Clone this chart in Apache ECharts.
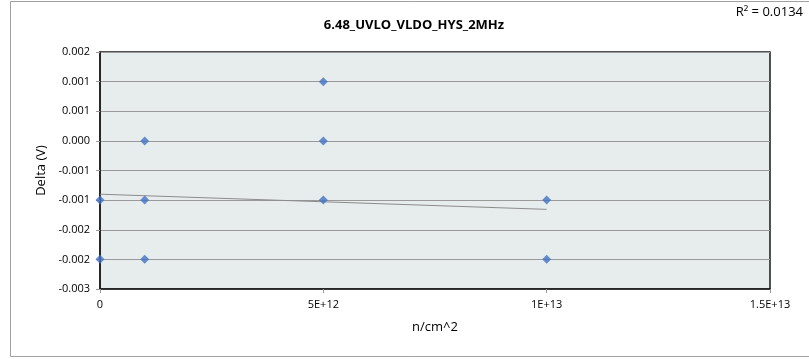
<!DOCTYPE html>
<html><head><meta charset="utf-8">
<script src="https://cdn.jsdelivr.net/npm/echarts@6/dist/echarts.min.js"></script>
<style>html,body{margin:0;padding:0;background:#fff}#c{width:809px;height:359px}</style>
</head><body><div id="c"></div>
<script>
const titleText = '6.48_UVLO_VLDO_HYS_2MHz';
const r2Text = 'R\u00B2 = 0.0134';
const xValues = [0, 0, 1e12, 1e12, 1e12, 5e12, 5e12, 5e12, 1e13, 1e13];
const yValues = [-0.00112, -0.00237, 0.00012, -0.00112, -0.00237, 0.00137, 0.00012, -0.00112, -0.00112, -0.00237];
const trendX = [0, 1e13];
const trendY = [-0.00100, -0.00132];
const yTickLabels = ['-0.003','-0.002','-0.002','-0.001','-0.001','0.000','0.001','0.001','0.002'];
const xTickLabels = ['0','5E+12','1E+13','1.5E+13'];
const yMin = -0.003, yMax = 0.002, yInterval = 0.000625;
const xMin = 0, xMax = 1.5e13, xInterval = 5e12;

const font = 'Open Sans, Noto Sans, sans-serif';
const chart = echarts.init(document.getElementById('c'));
chart.setOption({
  animation: false,
  graphic: [
    {type:'rect', shape:{x:10.5, y:1.5, width:820, height:355}, style:{fill:'none', stroke:'#a0a0a0', lineWidth:1}, z:-10},
    {type:'text', right:6, top:6, style:{text:r2Text, font:'13px '+font, fill:'#000'}}
  ],
  title: {text: titleText, left: 409, textAlign:'center', top: 14,
    textStyle:{fontFamily:font, fontSize:13, fontWeight:'bold', color:'#000'}},
  grid: {left:100, right:39, top:52, bottom:70, show:true, backgroundColor:'#e7ecec', borderColor:'#1a1a1a', borderWidth:1.5},
  xAxis: {type:'value', min:xMin, max:xMax, interval:xInterval,
    name:'n/cm^2', nameLocation:'middle', nameGap:32,
    nameTextStyle:{fontFamily:font, fontSize:13, color:'#000'},
    axisLine:{show:true, onZero:false, lineStyle:{color:'#1a1a1a', width:1.5}},
    axisTick:{show:true, length:4, lineStyle:{color:'#999'}},
    splitLine:{show:false},
    axisLabel:{margin:10, fontFamily:font, fontSize:11, color:'#000',
      formatter:(v)=>xTickLabels[Math.round((v-xMin)/xInterval)]}},
  yAxis: {type:'value', min:yMin, max:yMax, interval:yInterval,
    name:'Delta (V)', nameLocation:'middle', nameGap:50,
    nameTextStyle:{fontFamily:font, fontSize:13, color:'#000'},
    axisLine:{show:true, onZero:false, lineStyle:{color:'#1a1a1a', width:1.5}},
    axisTick:{show:true, length:4, lineStyle:{color:'#999'}},
    splitLine:{show:true, lineStyle:{color:'#999', width:1}},
    axisLabel:{margin:10, fontFamily:font, fontSize:11, color:'#000',
      formatter:(v)=>yTickLabels[Math.round((v-yMin)/yInterval)]}},
  series: [
    {type:'line', data: trendX.map((x,i)=>[x, trendY[i]]), symbol:'none',
      lineStyle:{color:'#8c8c8c', width:1}, z:2},
    {type:'scatter', data: xValues.map((x,i)=>[x, yValues[i]]), symbol:'diamond', symbolSize:9,
      itemStyle:{color:'#4472c4'}, z:3, clip:false}
  ]
});
</script></body></html>
